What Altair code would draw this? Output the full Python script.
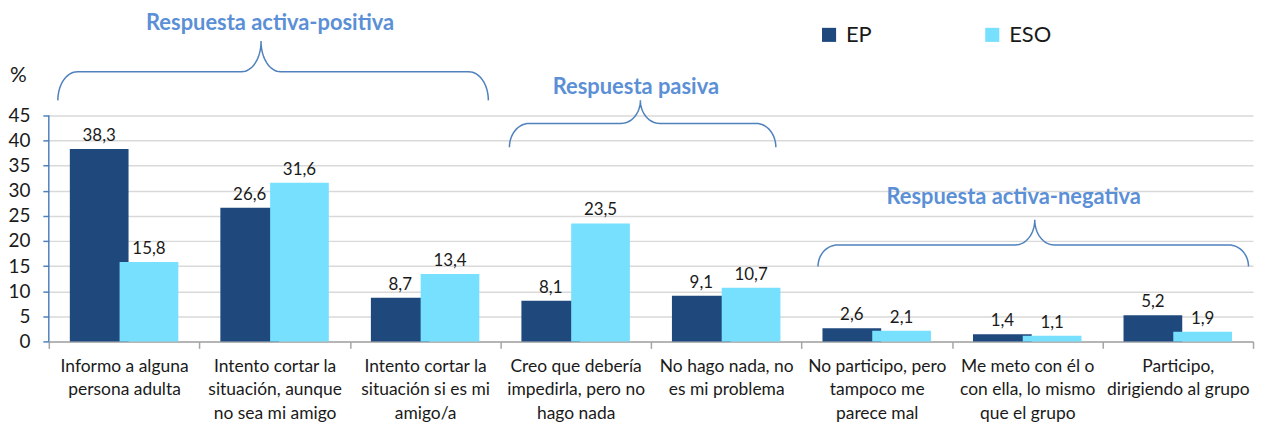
import math
import altair as alt
import pandas as pd

# ---------------- data ----------------
CATEGORIES = [
    "Informo a alguna|persona adulta",
    "Intento cortar la|situación, aunque|no sea mi amigo",
    "Intento cortar la|situación si es mi|amigo/a",
    "Creo que debería|impedirla, pero no|hago nada",
    "No hago nada, no|es mi problema",
    "No participo, pero|tampoco me|parece mal",
    "Me meto con él o|con ella, lo mismo|que el grupo",
    "Participo,|dirigiendo al grupo",
]
SERIES = ["EP", "ESO"]
EP = [38.3, 26.6, 8.7, 8.1, 9.1, 2.6, 1.4, 5.2]
ESO = [15.8, 31.6, 13.4, 23.5, 10.7, 2.1, 1.1, 1.9]
Y_TICKS = [0, 5, 10, 15, 20, 25, 30, 35, 40, 45]
GROUP_LABELS = ["Respuesta activa-positiva", "Respuesta pasiva", "Respuesta activa-negativa"]

# ---------------- annotation geometry (category units / value units) ----------------
BRACE_X0 = [0.06, 3.06, 5.11]
BRACE_X1 = [2.92, 4.83, 7.97]
BRACE_XC = [1.41, 3.93, 6.55]
BRACE_Y_END = [48.0, 38.65, 14.9]
BRACE_Y_MID = [53.7, 43.4, 19.2]
BRACE_Y_TIP = [59.7, 48.0, 24.2]
LABEL_X = [1.47, 3.90, 6.41]
LABEL_Y = [63.4, 50.7, 28.7]
RX = 0.13  # horizontal radius of the brace curls (category units)

C_EP = "#1F497D"
C_ESO = "#77E0FF"
C_GROUP = "#5B8FD6"
C_BRACE = "#4F81BD"
C_TEXT = "#1a1a1a"

rows = []
for i, c in enumerate(CATEGORIES):
    rows.append({"category": c, "series": "EP", "value": EP[i]})
    rows.append({"category": c, "series": "ESO", "value": ESO[i]})
df = pd.DataFrame(rows)


def brace_points(b):
    x0, x1, xc = BRACE_X0[b], BRACE_X1[b], BRACE_XC[b]
    ye, ym, yt = BRACE_Y_END[b], BRACE_Y_MID[b], BRACE_Y_TIP[b]
    n = 16
    pts = []
    for k in range(n + 1):  # left end curl
        t = math.pi / 2 * k / n
        pts.append((x0 + RX - RX * math.cos(t), ye + (ym - ye) * math.sin(t)))
    for k in range(n + 1):  # left half of tip
        t = math.pi / 2 * k / n
        pts.append((xc - RX + RX * math.sin(t), yt - (yt - ym) * math.cos(t)))
    for k in range(n + 1):  # right half of tip
        t = math.pi / 2 * k / n
        pts.append((xc + RX - RX * math.cos(t), ym + (yt - ym) * (1 - math.sin(t))))
    for k in range(n + 1):  # right end curl
        t = math.pi / 2 * k / n
        pts.append((x1 - RX + RX * math.sin(t), ym - (ym - ye) * (1 - math.cos(t))))
    return pts


brace_rows = []
for b in range(len(GROUP_LABELS)):
    for j, (u, v) in enumerate(brace_points(b)):
        brace_rows.append({"brace": b, "i": j, "u": u, "v": v})
brace_df = pd.DataFrame(brace_rows)
label_df = pd.DataFrame({"label": GROUP_LABELS, "u": LABEL_X, "v": LABEL_Y})

Y_DOMAIN = [0, 66]
yscale = alt.Scale(domain=Y_DOMAIN, nice=False, zero=True)
uscale = alt.Scale(domain=[0, 8], nice=False, zero=False)
xscale = alt.Scale(paddingInner=0, paddingOuter=0)
oscale = alt.Scale(paddingInner=0, paddingOuter=0.5125)

xaxis = alt.Axis(
    title=None,
    labelAngle=0,
    labelExpr="split(datum.label, '|')",
    labelFontSize=17.5,
    labelLineHeight=23.5,
    labelBaseline="top",
    labelPadding=9,
    labelColor=C_TEXT,
    labelOverlap=False,
    tickBand="extent",
    tickSize=7,
    tickColor="#a6a6a6",
    domainColor="#a6a6a6",
    domainWidth=1.5,
    tickWidth=1.5,
    grid=False,
)

yaxis = alt.Axis(
    title="%",
    titleAngle=0,
    titleX=-31,
    titleY=66,
    titleAlign="center",
    titleBaseline="middle",
    titleFontSize=21,
    titleFontWeight="normal",
    titleColor=C_TEXT,
    values=Y_TICKS,
    labelOverlap=False,
    domain=False,
    tickColor=C_BRACE,
    tickSize=6,
    tickWidth=1.5,
    labelFontSize=19,
    labelPadding=13,
    labelColor=C_TEXT,
    gridColor="#d9d9d9",
    gridWidth=1.5,
)

bars = alt.Chart(df).mark_bar(width=59).encode(
    x=alt.X("category:N", sort=CATEGORIES, scale=xscale, axis=xaxis),
    xOffset=alt.XOffset("series:N", sort=SERIES, scale=oscale),
    y=alt.Y("value:Q", scale=yscale, axis=yaxis),
    color=alt.Color(
        "series:N",
        scale=alt.Scale(domain=SERIES, range=[C_EP, C_ESO]),
        legend=alt.Legend(
            title=None,
            orient="none",
            legendX=773,
            legendY=14,
            direction="horizontal",
            symbolType="square",
            symbolSize=200,
            symbolStrokeWidth=0,
            labelFontSize=22,
            labelColor=C_TEXT,
            labelOffset=6,
            columnPadding=110,
            padding=0,
        ),
    ),
    order=alt.Order("series:N"),
)

labels = alt.Chart(df).mark_text(
    baseline="alphabetic", dy=-8, fontSize=17, color=C_TEXT
).transform_calculate(
    txt="replace(format(datum.value, '.1f'), '.', ',')"
).encode(
    x=alt.X("category:N", sort=CATEGORIES, scale=xscale, axis=xaxis),
    xOffset=alt.XOffset("series:N", sort=SERIES, scale=oscale),
    y=alt.Y("value:Q", scale=yscale, axis=yaxis),
    text="txt:N",
)

yrule = alt.Chart(pd.DataFrame({"a": [0], "b": [45]})).mark_rule(
    color=C_BRACE, strokeWidth=1.5
).encode(
    x=alt.value(0),
    y=alt.Y("a:Q", scale=yscale, axis=yaxis),
    y2="b:Q",
)

braces = alt.Chart(brace_df).mark_line(color=C_BRACE, strokeWidth=1.5).encode(
    x=alt.X("u:Q", scale=uscale, axis=None),
    y=alt.Y("v:Q", scale=yscale, axis=yaxis),
    detail="brace:N",
    order="i:Q",
)

titles = alt.Chart(label_df).mark_text(
    fontSize=22, fontWeight="bold", color=C_GROUP, align="center", baseline="middle"
).encode(
    x=alt.X("u:Q", scale=uscale, axis=None),
    y=alt.Y("v:Q", scale=yscale, axis=yaxis),
    text="label:N",
)

main = alt.layer(bars, labels, yrule)
ann = alt.layer(braces, titles)

chart = (
    alt.layer(main, ann)
    .resolve_scale(x="independent")
    .properties(
        width=1210,
        height=333,
        padding={"left": 41, "top": 1, "right": 5, "bottom": 82},
        autosize=alt.AutoSizeParams(type="none"),
    )
    .configure(font="Lato")
    .configure_view(stroke=None)
)

chart.save("out.html", embed_options={"renderer": "svg", "actions": False})
